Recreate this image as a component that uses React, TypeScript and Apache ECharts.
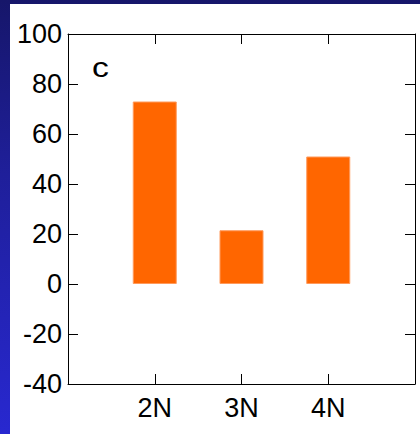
import React, { useEffect, useRef } from "react";
import * as echarts from "echarts";

const categories = ["2N", "3N", "4N"];
const positions = [2, 3, 4];
const values = [73, 21.5, 51];
const panelLabel = "c";

export default function App() {
  const ref = useRef<HTMLDivElement>(null);
  useEffect(() => {
    if (!ref.current) return;
    const chart = echarts.init(ref.current, undefined, { renderer: "svg" });
    const font = "'Liberation Sans', Arial, sans-serif";
    const tickCfg = { show: true, inside: true, length: 10, lineStyle: { color: "#000", width: 1 } };
    const lineCfg = { show: true, onZero: false, lineStyle: { color: "#000", width: 1 } };
    const xLabel = (v: number) => {
      const i = positions.indexOf(v);
      return i >= 0 ? categories[i] : "";
    };
    chart.setOption({
      animation: false,
      backgroundColor: "transparent",
      grid: { left: 68, right: 5, top: 34, bottom: 50, containLabel: false },
      xAxis: [
        {
          type: "value", min: 1, max: 5, interval: 1, position: "bottom",
          axisLine: lineCfg, axisTick: tickCfg, splitLine: { show: false },
          axisLabel: { formatter: xLabel, color: "#000", fontSize: 27, fontFamily: font, margin: 10 },
        },
        {
          type: "value", min: 1, max: 5, interval: 1, position: "top",
          axisLine: lineCfg, axisTick: tickCfg, splitLine: { show: false },
          axisLabel: { show: false },
        },
      ],
      yAxis: [
        {
          type: "value", min: -40, max: 100, interval: 20, position: "left",
          axisLine: lineCfg, axisTick: tickCfg, splitLine: { show: false },
          axisLabel: { color: "#000", fontSize: 27, fontFamily: font, margin: 6 },
        },
        {
          type: "value", min: -40, max: 100, interval: 20, position: "right",
          axisLine: lineCfg, axisTick: tickCfg, splitLine: { show: false },
          axisLabel: { show: false },
        },
      ],
      graphic: [
        {
          type: "text", x: 92, y: 54, scaleX: 1.25,
          style: { text: panelLabel, fill: "#000", font: `27px ${font}` },
        },
      ],
      series: [
        {
          type: "bar",
          xAxisIndex: 0, yAxisIndex: 0,
          barWidth: 44,
          itemStyle: { color: "#FF6600", borderColor: "#ff9a5c", borderWidth: 1 },
          data: positions.map((p, i) => [p, values[i]]),
        },
      ],
    });
    return () => chart.dispose();
  }, []);
  return (
    <div
      style={{
        position: "fixed", left: 0, top: 0, width: 420, height: 434,
        background: "linear-gradient(to bottom, #16166a 0%, #1f1f9a 40%, #2828d0 100%)",
      }}
    >
      <div style={{ position: "absolute", left: 10, top: 4, width: 410, height: 430, background: "#fff" }} />
      <div ref={ref} style={{ position: "absolute", left: 0, top: 0, width: 420, height: 434 }} />
    </div>
  );
}
